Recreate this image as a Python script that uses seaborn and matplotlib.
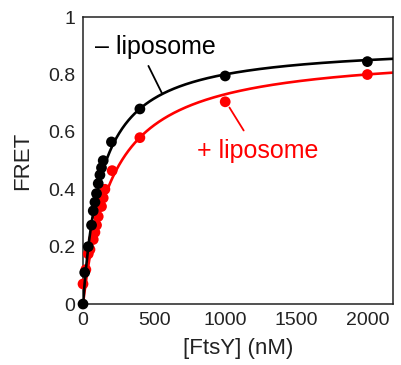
import numpy as np
import pandas as pd
import matplotlib
matplotlib.use("Agg")
import matplotlib.pyplot as plt
import seaborn as sns

# data
conc_minus = [0, 12, 37, 60, 72, 84, 95, 107, 119, 130, 142, 200, 400, 1000, 2000]
fret_minus = [0.0, 0.11, 0.20, 0.275, 0.325, 0.355, 0.385, 0.42, 0.45, 0.475, 0.50, 0.565, 0.68, 0.795, 0.845]
conc_plus = [0, 20, 37, 49, 72, 84, 95, 107, 130, 142, 154, 205, 400, 1000, 2000]
fret_plus = [0.07, 0.12, 0.175, 0.19, 0.225, 0.25, 0.275, 0.305, 0.34, 0.37, 0.40, 0.465, 0.58, 0.705, 0.80]

# hyperbolic fit parameters (Fmax, Kd)
fit_minus = (0.907, 133.0)
fit_plus = (0.884, 209.0)

xticks = [0, 500, 1000, 1500, 2000]
yticks = [0, 0.2, 0.4, 0.6, 0.8, 1]
ytick_labels = ["0", "0.2", "0.4", "0.6", "0.8", "1"]

sns.set_theme(style="white")
plt.rcParams['font.family'] = ['Liberation Sans', 'DejaVu Sans']

fig = plt.figure(figsize=(4.01, 3.65), dpi=100)
ax = fig.add_axes([0.207, 0.167, 0.773, 0.786])

xf = np.linspace(0, 2200, 400)
curves = pd.DataFrame({
    "x": np.concatenate([xf, xf]),
    "y": np.concatenate([fit_plus[0] * xf / (fit_plus[1] + xf),
                         fit_minus[0] * xf / (fit_minus[1] + xf)]),
    "cond": ["plus"] * len(xf) + ["minus"] * len(xf),
})
pal = {"plus": "#ff0000", "minus": "#000000"}

pts = pd.DataFrame({
    "x": conc_plus + conc_minus,
    "y": fret_plus + fret_minus,
    "cond": ["plus"] * len(conc_plus) + ["minus"] * len(conc_minus),
})

sns.lineplot(data=curves[curves.cond == "plus"], x="x", y="y", color=pal["plus"], lw=1.9, ax=ax, zorder=2)
sns.scatterplot(data=pts[pts.cond == "plus"], x="x", y="y", color=pal["plus"], s=60, edgecolor="none", ax=ax, zorder=3, clip_on=False)
sns.lineplot(data=curves[curves.cond == "minus"], x="x", y="y", color=pal["minus"], lw=1.9, ax=ax, zorder=4)
sns.scatterplot(data=pts[pts.cond == "minus"], x="x", y="y", color=pal["minus"], s=60, edgecolor="none", ax=ax, zorder=5, clip_on=False)

ax.set_xlim(0, 2180)
ax.set_ylim(0, 1)
ax.set_xticks(xticks)
ax.set_yticks(yticks)
ax.set_yticklabels(ytick_labels)
ax.tick_params(direction="in", length=5, width=1, labelsize=14, colors="#222222", pad=5.5)
for s in ax.spines.values():
    s.set_color("#222222")
    s.set_linewidth(1.1)
ax.set_xlabel("[FtsY] (nM)", fontsize=16, color="#222222", labelpad=7)
ax.set_ylabel("FRET", fontsize=16, color="#222222", labelpad=11)

ax.text(506, 0.895, "\u2013 liposome", fontsize=18, color="black", ha="center", va="center")
ax.plot([460, 555], [0.83, 0.735], color="black", lw=1.3)
ax.text(1230, 0.535, "+ liposome", fontsize=18, color="#ff0000", ha="center", va="center")
ax.plot([1130, 1030], [0.605, 0.685], color="#ff0000", lw=1.3)

fig.savefig("out.png", dpi=100)
